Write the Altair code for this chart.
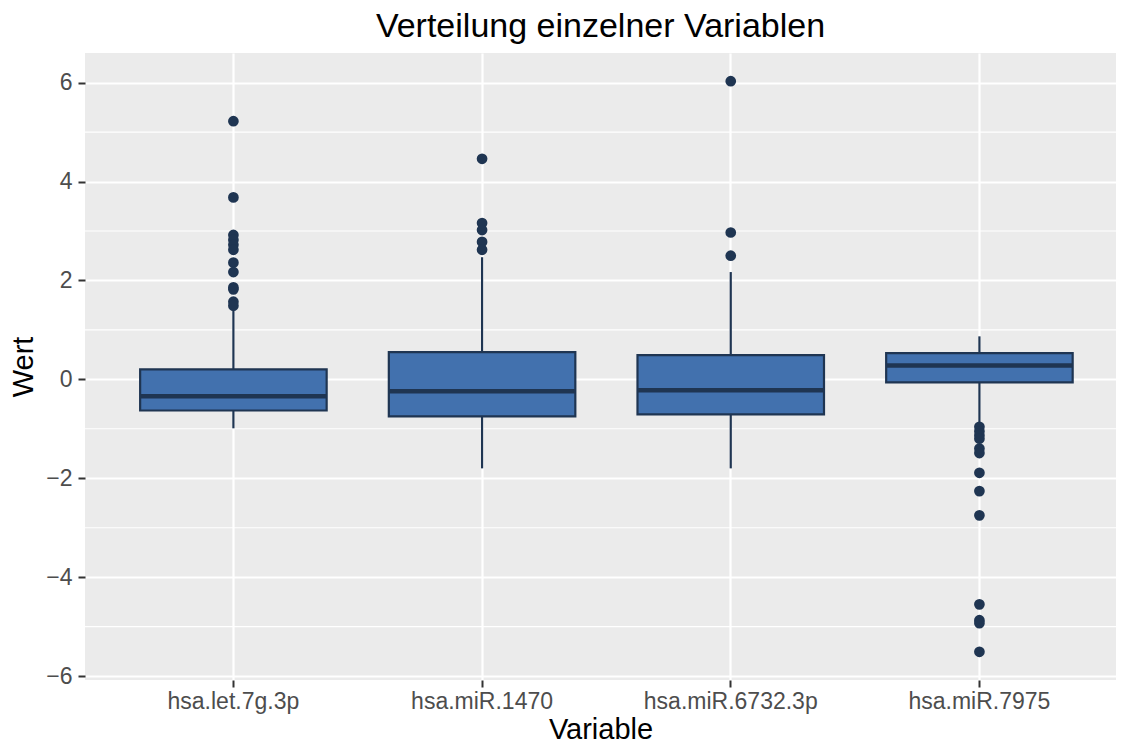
import altair as alt
import pandas as pd

categories = ["hsa.let.7g.3p", "hsa.miR.1470", "hsa.miR.6732.3p", "hsa.miR.7975"]
q1 = [-0.63, -0.75, -0.71, -0.06]
median = [-0.34, -0.24, -0.22, 0.28]
q3 = [0.20, 0.55, 0.49, 0.53]
whisker_lo = [-0.99, -1.80, -1.80, -0.90]
whisker_hi = [1.44, 2.47, 2.17, 0.87]

outliers_1 = [5.22, 3.68, 2.92, 2.82, 2.72, 2.62, 2.36, 2.17, 1.86, 1.82, 1.57, 1.49]
outliers_2 = [4.46, 3.16, 3.02, 2.78, 2.62]
outliers_3 = [6.03, 2.97, 2.50]
outliers_4 = [-0.96, -1.05, -1.13, -1.20, -1.40, -1.49, -1.89, -2.26, -2.75, -4.55, -4.87, -4.93, -5.51]

y_ticks = [-6, -4, -2, 0, 2, 4, 6]
y_minor = [-5, -3, -1, 1, 3, 5]

stats = pd.DataFrame({
    "Variable": categories, "q1": q1, "median": median, "q3": q3,
    "lo": whisker_lo, "hi": whisker_hi,
})
out_rows = []
for cat, vals in zip(categories, [outliers_1, outliers_2, outliers_3, outliers_4]):
    for v in vals:
        out_rows.append({"Variable": cat, "Wert": v})
outs = pd.DataFrame(out_rows)
minor_df = pd.DataFrame({"v": y_minor})

FILL = "#4271AE"
LINE = "#1F3552"
FONT = "Liberation Sans"

W, H = 1031, 627

# band layout: step ~248.7 px, first centre ~149 px from the panel's left edge
xscale = alt.Scale(domain=categories, paddingInner=0.25, paddingOuter=0.198, align=0.56)
yscale = alt.Scale(domain=[-6.08, 6.60], nice=False, zero=False)

xaxis = alt.Axis(title="Variable", bandPosition=0.5, labelAngle=0, grid=True,
                 gridColor="white", gridWidth=2.2, domain=False,
                 tickColor="#333333", tickWidth=2, tickSize=7,
                 labelColor="#4D4D4D", labelFontSize=23, labelPadding=3,
                 titleFontSize=29, titleFontWeight="normal", titleColor="black",
                 titlePadding=2, labelFont=FONT, titleFont=FONT)
yaxis = alt.Axis(title="Wert", values=y_ticks, grid=True, gridColor="white",
                 gridWidth=2.2, domain=False, tickColor="#333333", tickWidth=2,
                 tickSize=7, labelColor="#4D4D4D", labelFontSize=23,
                 labelPadding=6, titleFontSize=29, titleFontWeight="normal",
                 titleColor="black", titlePadding=7, labelFont=FONT, titleFont=FONT)

minor = alt.Chart(minor_df).mark_rule(color="white", strokeWidth=1.1).encode(
    y=alt.Y("v:Q", scale=yscale, axis=yaxis)
)

base = alt.Chart(stats)
X = alt.X("Variable:N", scale=xscale, axis=xaxis, sort=categories)
whisk_up = base.mark_rule(color=LINE, strokeWidth=2.2).encode(
    x=X, y=alt.Y("q3:Q", scale=yscale, axis=yaxis), y2="hi:Q",
)
whisk_dn = base.mark_rule(color=LINE, strokeWidth=2.2).encode(
    x=X, y=alt.Y("lo:Q", scale=yscale, axis=yaxis), y2="q1:Q",
)
box = base.mark_bar(fill=FILL, stroke=LINE, strokeWidth=2.2).encode(
    x=X, y=alt.Y("q1:Q", scale=yscale, axis=yaxis), y2="q3:Q",
)
med = base.mark_tick(color=LINE, thickness=4.5, size=186, opacity=1).encode(
    x=X, y=alt.Y("median:Q", scale=yscale, axis=yaxis),
)
pts = alt.Chart(outs).mark_circle(color=LINE, size=115, opacity=1).encode(
    x=X, y=alt.Y("Wert:Q", scale=yscale, axis=yaxis),
)

chart = alt.layer(minor, whisk_up, whisk_dn, box, med, pts).properties(
    width=W, height=H,
    title=alt.TitleParams("Verteilung einzelner Variablen", fontSize=34,
                          fontWeight="normal", font=FONT, color="black",
                          anchor="middle", offset=9),
    autosize=alt.AutoSizeParams(type="none"),
    padding={"left": 77, "top": 45, "right": 0, "bottom": 65},
).configure(background="white").configure_view(fill="#EBEBEB", strokeWidth=0)

chart.save("out.html", embed_options={"renderer": "svg", "actions": False})
